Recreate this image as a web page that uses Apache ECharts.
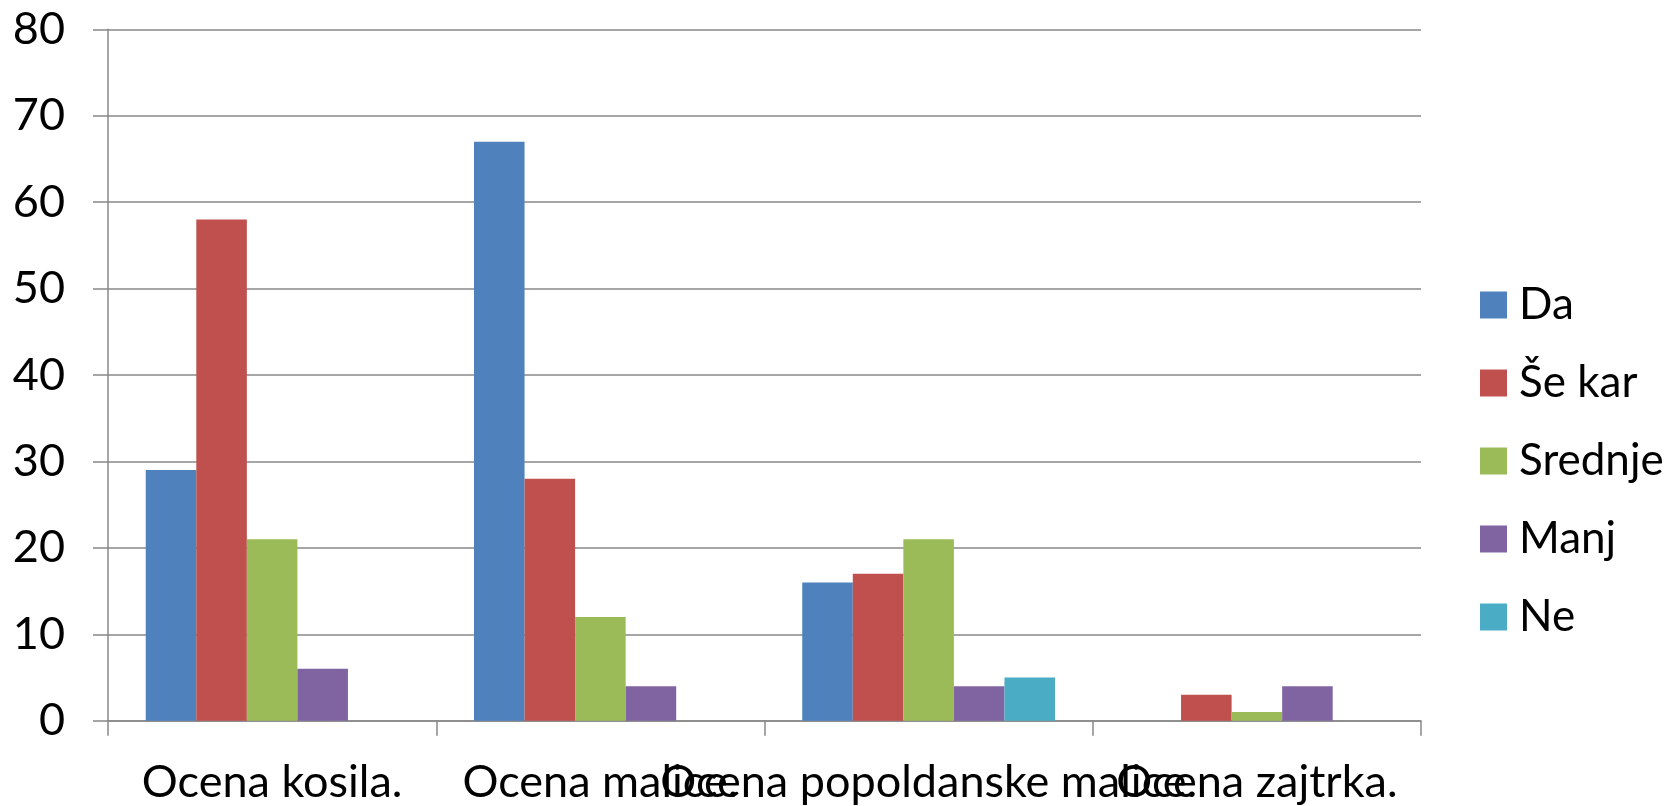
<!DOCTYPE html>
<html>
<head>
<meta charset="utf-8">
<script src="https://cdn.jsdelivr.net/npm/echarts@6/dist/echarts.min.js"></script>
<style>
  html, body { margin: 0; padding: 0; background: #fff; }
  #chart { width: 1669px; height: 806px; }
</style>
</head>
<body>
<div id="chart"></div>
<script>
var categories = ['Ocena kosila.', 'Ocena malice.', 'Ocena popoldanske malice.', 'Ocena zajtrka.'];
var seriesNames = ['Da', 'Še kar', 'Srednje', 'Manj', 'Ne'];
var da = [29, 67, 16, 0];
var seKar = [58, 28, 17, 3];
var srednje = [21, 12, 21, 1];
var manj = [6, 4, 4, 4];
var ne = [0, 0, 5, 0];
var yTicks = [0, 10, 20, 30, 40, 50, 60, 70, 80];

function draw_chart() {
    var dom = document.getElementById('chart');
    var myChart = echarts.init(dom, null, {
      renderer: 'canvas',
      useDirtyRect: false
    });

    var colors = ['#4F81BD', '#C0504D', '#9BBB59', '#8064A2', '#4BACC6'];
    var values = [da, seKar, srednje, manj, ne];
    var font = 'Lato';

    var option = {
  animation: false,
  color: colors,
  grid: {
    left: 108,
    right: 248,
    top: 29.3,
    bottom: 85.3,
    containLabel: false
  },
  legend: {
    orient: 'vertical',
    left: 1475,
    top: 278,
    itemWidth: 27,
    itemHeight: 27,
    itemGap: 34,
    icon: 'rect',
    textStyle: {
      fontFamily: font,
      fontSize: 44,
      lineHeight: 40,
      color: '#000',
      padding: [0, 0, 0, 7]
    },
    data: seriesNames
  },
  xAxis: {
    type: 'category',
    data: categories,
    axisLine: { lineStyle: { color: '#888', width: 1.5 } },
    axisTick: { show: true, length: 15, lineStyle: { color: '#888', width: 1.5 } },
    axisLabel: {
      interval: 0,
      margin: 39,
      fontFamily: font,
      fontSize: 45,
      color: '#000',
      hideOverlap: false
    }
  },
  yAxis: {
    type: 'value',
    min: yTicks[0],
    max: yTicks[yTicks.length - 1],
    interval: 10,
    axisLine: { show: true, lineStyle: { color: '#888', width: 1.5 } },
    axisTick: { show: true, length: 15, lineStyle: { color: '#888', width: 1.5 } },
    splitLine: { lineStyle: { color: '#888', width: 1.5 } },
    axisLabel: {
      margin: 43,
      fontFamily: font,
      fontSize: 45,
      color: '#000'
    }
  },
  series: seriesNames.map(function (name, i) {
    return {
      name: name,
      type: 'bar',
      barGap: 0,
      barCategoryGap: '23%',
      data: values[i]
    };
  })
};

    myChart.setOption(option);
    window.addEventListener('resize', myChart.resize);
}

draw_chart();
</script>
</body>
</html>
